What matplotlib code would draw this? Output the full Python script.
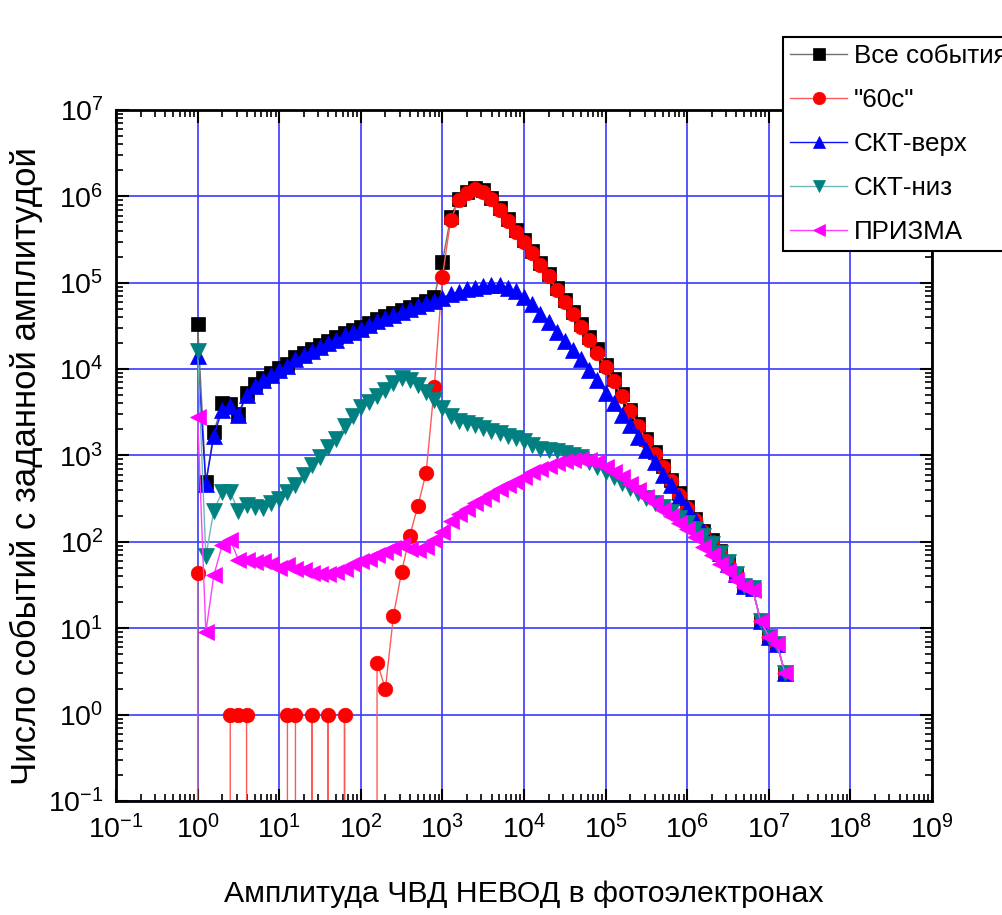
import numpy as np
import matplotlib
matplotlib.use("Agg")
import matplotlib.pyplot as plt
from matplotlib.ticker import LogLocator, NullFormatter, FuncFormatter

# ---------------- data (bins in photoelectrons) ----------------
amplitude = [
    1.00, 1.26, 1.58, 2.00, 2.51, 3.16, 3.98, 5.01, 6.31, 7.94,
    1.00e1, 1.26e1, 1.58e1, 2.00e1, 2.51e1, 3.16e1, 3.98e1, 5.01e1, 6.31e1, 7.94e1,
    1.00e2, 1.26e2, 1.58e2, 2.00e2, 2.51e2, 3.16e2, 3.98e2, 5.01e2, 6.31e2, 7.94e2,
    1.00e3, 1.26e3, 1.58e3, 2.00e3, 2.51e3, 3.16e3, 3.98e3, 5.01e3, 6.31e3, 7.94e3,
    1.00e4, 1.26e4, 1.58e4, 2.00e4, 2.51e4, 3.16e4, 3.98e4, 5.01e4, 6.31e4, 7.94e4,
    1.00e5, 1.26e5, 1.58e5, 2.00e5, 2.51e5, 3.16e5, 3.98e5, 5.01e5, 6.31e5, 7.94e5,
    1.00e6, 1.26e6, 1.58e6, 2.00e6, 2.51e6, 3.16e6, 3.98e6, 5.01e6, 6.31e6, 7.94e6,
    1.00e7, 1.26e7, 1.58e7,
]

all_events = [
    3.3e4, 490, 1850, 4000, 3900, 3050, 5250, 6650, 7900, 8950,
    1.03e4, 1.16e4, 1.37e4, 1.53e4, 1.69e4, 1.9e4, 2.1e4, 2.33e4, 2.6e4, 2.85e4,
    3.07e4, 3.4e4, 3.8e4, 4.12e4, 4.45e4, 4.85e4, 5.3e4, 5.7e4, 6.2e4, 6.8e4,
    1.75e5, 5.8e5, 9.4e5, 1.12e6, 1.26e6, 1.17e6, 9.6e5, 7.3e5, 5.5e5, 4.1e5,
    3.15e5, 2.3e5, 1.7e5, 1.26e5, 8.8e4, 6.3e4, 4.6e4, 3.3e4, 2.35e4, 1.7e4,
    1.13e4, 7600, 5100, 3400, 2300, 1550, 1100, 760, 520, 365,
    255, 185, 135, 104, 78, 58, 43, 31, 29, 12,
    8, 6.5, 3,
]

events_60c = [
    44, 0, 0, 0, 1, 1, 1, 0, 0, 0,
    0, 1, 1, 0, 1, 0, 1, 0, 1, 0,
    0, 0, 4, 2, 14, 45, 118, 263, 630, 6200,
    1.18e5, 5.3e5, 9.0e5, 1.08e6, 1.22e6, 1.13e6, 9.2e5, 7.0e5, 5.2e5, 3.9e5,
    3.0e5, 2.2e5, 1.6e5, 1.2e5, 8.3e4, 6.0e4, 4.4e4, 3.1e4, 2.2e4, 1.55e4,
    1.07e4, 7200, 4900, 3250, 2200, 1480, 1050, 730, 500, 350,
    245, 178, 130, 100, 75, 56, 42, 31, 29, 12,
    8, 6.5, 3,
]

skt_top = [
    1.4e4, 470, 1700, 3400, 3700, 2950, 5000, 6300, 7500, 8500,
    9800, 1.1e4, 1.3e4, 1.45e4, 1.6e4, 1.8e4, 2.0e4, 2.2e4, 2.45e4, 2.7e4,
    2.9e4, 3.2e4, 3.6e4, 3.9e4, 4.2e4, 4.6e4, 5.0e4, 5.4e4, 5.8e4, 6.2e4,
    6.7e4, 7.4e4, 7.9e4, 8.4e4, 8.8e4, 9.1e4, 9.3e4, 9.3e4, 8.8e4, 8.0e4,
    6.8e4, 5.6e4, 4.4e4, 3.5e4, 2.7e4, 2.1e4, 1.65e4, 1.3e4, 9800, 7500,
    5300, 4000, 2950, 2250, 1650, 1150, 830, 600, 450, 330,
    245, 180, 132, 100, 75, 56, 42, 31, 29, 12,
    8, 6.5, 3,
]

skt_bottom = [
    1.6e4, 68, 230, 380, 380, 225, 265, 250, 245, 285,
    316, 380, 450, 600, 780, 960, 1260, 1550, 2200, 2900,
    3600, 4200, 4900, 5700, 6900, 7800, 7400, 6500, 5500, 4400,
    3500, 2900, 2500, 2350, 2250, 2100, 1900, 1800, 1700, 1600,
    1480, 1320, 1200, 1170, 1130, 1080, 1020, 950, 850, 740,
    650, 560, 480, 420, 370, 320, 280, 250, 220, 190,
    165, 140, 118, 95, 75, 58, 42, 31, 29, 12,
    8, 6.5, 3,
]

prisma = [
    2800, 9, 41, 92, 105, 62, 62, 59, 60, 56,
    50, 54, 49, 47, 44, 42, 43, 45, 49, 55,
    60, 64, 70, 76, 85, 93, 82, 80, 88, 105,
    130, 175, 210, 240, 280, 316, 360, 405, 450, 490,
    560, 640, 700, 760, 820, 870, 890, 910, 890, 850,
    740, 640, 560, 470, 400, 330, 280, 235, 200, 165,
    140, 115, 88, 70, 56, 46, 36, 30, 28, 12,
    8, 6.5, 3,
]

series_labels = ["Все события", '"60с"', "СКТ-верх", "СКТ-низ", "ПРИЗМА"]
x_label = "Амплитуда ЧВД НЕВОД в фотоэлектронах"
y_label = "Число событий с заданной амплитудой"

# ---------------- fonts ----------------
FAM = "Liberation Sans"
plt.rcParams["font.family"] = [FAM, "DejaVu Sans"]
plt.rcParams["mathtext.fontset"] = "custom"
plt.rcParams["mathtext.rm"] = FAM
plt.rcParams["mathtext.it"] = FAM
plt.rcParams["mathtext.bf"] = FAM

TICK_FS = 20.5
LEG_FS = 18.7
XLAB_FS = 21.8
YLAB_FS = 25.0

# ---------------- figure ----------------
fig = plt.figure(figsize=(10.02, 9.15), dpi=100)
ax = fig.add_axes([0.1158, 0.1246, 0.8144, 0.7552])
ax.set_xscale("log")
ax.set_yscale("log")

styles = [
    dict(color="#707070", marker="s", mfc="#000000", mec="#000000", ms=9.5),
    dict(color="#ff5a5a", marker="o", mfc="#ff0000", mec="#ff0000", ms=10.5),
    dict(color="#1010ff", marker="^", mfc="#0000ff", mec="#0000ff", ms=11),
    dict(color="#6fb8b8", marker="v", mfc="#008080", mec="#008080", ms=11),
    dict(color="#ff40ff", marker="<", mfc="#ff00ff", mec="#ff00ff", ms=11),
]
data = [all_events, events_60c, skt_top, skt_bottom, prisma]
for vals, lab, st in zip(data, series_labels, styles):
    ax.plot(amplitude, vals, lw=1.0, label=lab, mew=0.5, **st)

ax.set_xlim(1e-1, 1e9)
ax.set_ylim(1e-1, 1e7)

fmt = FuncFormatter(lambda v, p: r"$\mathdefault{10^{%d}}$" % int(round(np.log10(v))))
for axis in (ax.xaxis, ax.yaxis):
    axis.set_major_locator(LogLocator(base=10, numticks=30))
    axis.set_minor_locator(LogLocator(base=10, subs=np.arange(2, 10), numticks=30))
    axis.set_minor_formatter(NullFormatter())
    axis.set_major_formatter(fmt)

ax.tick_params(which="both", direction="in", top=True, right=True, colors="black")
ax.tick_params(which="major", length=9, width=1.5, labelsize=TICK_FS, pad=10)
ax.tick_params(which="minor", length=5, width=1.2)
ax.tick_params(axis="y", which="major", pad=9)
for s in ax.spines.values():
    s.set_linewidth(2)

ax.grid(True, which="major", color="#3a3aff", linewidth=1.2)
ax.set_axisbelow(True)

ax.set_xlabel(x_label, fontsize=XLAB_FS, labelpad=26)
ax.set_ylabel(y_label, fontsize=YLAB_FS)
ax.yaxis.set_label_coords(-0.089, 0.485)

leg = ax.legend(loc="upper left", bbox_to_anchor=(783 / 1002, 1 - 37 / 915),
                bbox_transform=fig.transFigure, borderaxespad=0, fontsize=LEG_FS,
                frameon=True, fancybox=False, framealpha=1, edgecolor="black",
                handlelength=2.2, handletextpad=0.25, labelspacing=0.77,
                borderpad=0.27, markerscale=0.85)
leg.get_frame().set_linewidth(1.5)

fig.savefig("out.png", dpi=100)
